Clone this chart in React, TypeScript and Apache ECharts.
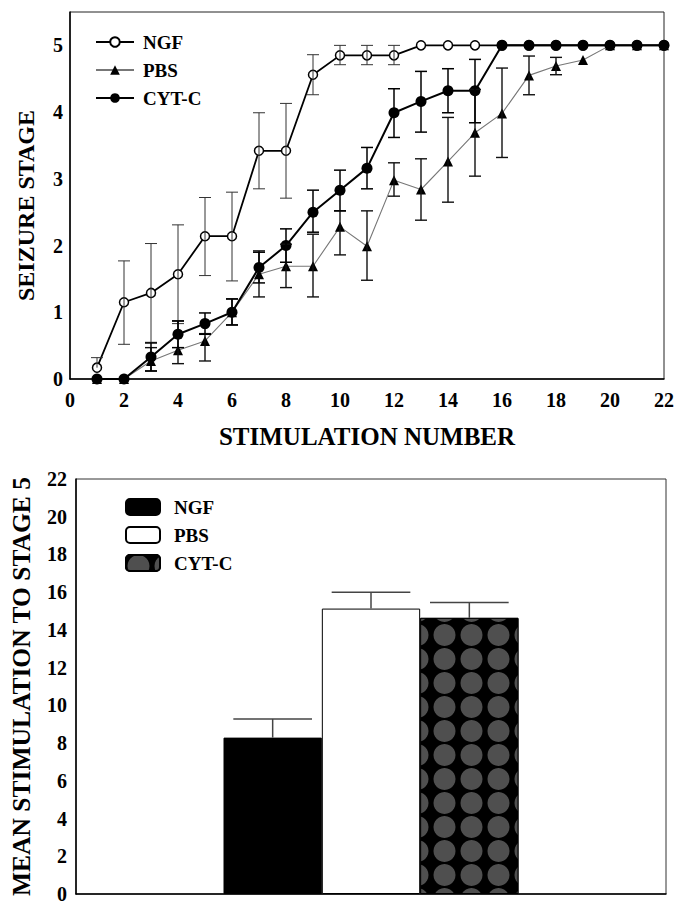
import React, { useEffect, useRef } from "react";
import * as echarts from "echarts";

// ---------- data: top chart ----------
const stimulation = [1, 2, 3, 4, 5, 6, 7, 8, 9, 10, 11, 12, 13, 14, 15, 16, 17, 18, 19, 20, 21, 22];
const ngfMean = [0.17, 1.15, 1.29, 1.57, 2.14, 2.14, 3.42, 3.42, 4.56, 4.85, 4.85, 4.85, 5, 5, 5, 5, 5, 5, 5, 5, 5, 5];
const ngfUpper = [0.32, 1.77, 2.03, 2.31, 2.72, 2.8, 3.99, 4.13, 4.86, 5.0, 5.0, 5.0, null, null, null, null, null, null, null, null, null, null];
const ngfLower = [null, 0.52, 0.55, 0.83, 1.55, 1.47, 2.85, 2.71, 4.26, 4.71, 4.71, 4.71, null, null, null, null, null, null, null, null, null, null];

const pbsMean = [0, 0, 0.27, 0.43, 0.57, 1.0, 1.57, 1.69, 1.69, 2.28, 1.99, 2.98, 2.84, 3.26, 3.69, 3.98, 4.55, 4.69, 4.78, 5, 5, 5];
const pbsUpper = [null, null, 0.47, 0.87, 0.68, 1.2, 1.92, 2.02, 2.17, 2.52, 2.52, 3.24, 3.3, 3.92, 4.34, 4.66, 4.84, 4.82, null, null, null, null];
const pbsLower = [null, null, 0.12, 0.23, 0.27, 0.81, 1.23, 1.37, 1.23, 1.86, 1.48, 2.74, 2.38, 2.65, 3.04, 3.32, 4.26, 4.56, null, null, null, null];

const cytMean = [0, 0, 0.33, 0.67, 0.83, 1.0, 1.67, 2.0, 2.5, 2.83, 3.16, 3.99, 4.16, 4.32, 4.32, 5, 5, 5, 5, 5, 5, 5];
const cytUpper = [null, null, 0.54, 0.87, 0.99, 1.2, 1.9, 2.25, 2.83, 3.13, 3.47, 4.35, 4.61, 4.65, 4.79, null, null, null, null, null, null, null];
const cytLower = [null, null, 0.12, 0.47, 0.67, 0.81, 1.44, 1.75, 2.2, 2.52, 2.85, 3.62, 3.7, 3.99, 3.84, null, null, null, null, null, null, null];

// ---------- data: bottom chart ----------
const barGroups = ["NGF", "PBS", "CYT-C"];
const barMeans = [8.29, 15.13, 14.64];
const barUpper = [9.28, 16.0, 15.45];
const barSlots = ["s0", "s1", ...barGroups, "s5", "s6"];

const FONT = "'Liberation Serif', 'Times New Roman', Times, serif";

function errData(mean: number[], upper: (number | null)[], lower: (number | null)[]) {
  const out: any[] = [];
  stimulation.forEach((x, i) => {
    if (upper[i] == null && lower[i] == null) return;
    out.push([x, lower[i] ?? mean[i], upper[i] ?? mean[i], lower[i] == null ? 0 : 1, upper[i] == null ? 0 : 1]);
  });
  return out;
}

function errSeries(name: string, data: any[], stroke: string, lw: number) {
  return {
    type: "custom",
    name,
    xAxisIndex: 0,
    yAxisIndex: 0,
    z: 5,
    encode: { x: 0, y: [1, 2] },
    data,
    renderItem: (params: any, api: any) => {
      const x = api.value(0);
      const lo = api.value(1);
      const hi = api.value(2);
      const hasLo = api.value(3);
      const hasHi = api.value(4);
      const pT = api.coord([x, hi]);
      const pB = api.coord([x, lo]);
      const w = 6;
      const style = { stroke, lineWidth: lw, fill: "none" };
      const children: any[] = [
        { type: "line", shape: { x1: pT[0], y1: pT[1], x2: pB[0], y2: pB[1] }, style },
      ];
      if (hasHi) children.push({ type: "line", shape: { x1: pT[0] - w, y1: pT[1], x2: pT[0] + w, y2: pT[1] }, style });
      if (hasLo) children.push({ type: "line", shape: { x1: pB[0] - w, y1: pB[1], x2: pB[0] + w, y2: pB[1] }, style });
      return { type: "group", children };
    },
  };
}

export default function App() {
  const ref = useRef<HTMLDivElement>(null);
  useEffect(() => {
    if (!ref.current) return;
    const chart = echarts.init(ref.current, null, { renderer: "svg" });
    const axisLabel = { color: "#000", fontWeight: "bold", fontFamily: FONT, fontSize: 20 };
    const nameStyle = { color: "#000", fontWeight: "bold", fontFamily: FONT };
    const option: any = {
      animation: false,
      backgroundColor: "#fff",
      grid: [
        { left: 70, top: 12, width: 595, height: 367, show: true, borderColor: "#222", borderWidth: 1, backgroundColor: "transparent" },
        { left: 76, top: 479, width: 590, height: 420, show: true, borderColor: "#333", borderWidth: 1, backgroundColor: "transparent" },
      ],
      legend: [
        {
          orient: "vertical",
          left: 90,
          top: 27,
          itemWidth: 38,
          itemHeight: 12,
          itemGap: 8,
          selectedMode: false,
          data: ["NGF", "PBS", "CYT-C"],
          textStyle: { color: "#000", fontWeight: "bold", fontFamily: FONT, fontSize: 19, lineHeight: 20, padding: [0, 0, 0, 4] },
        },
        {
          orient: "vertical",
          left: 120,
          top: 492,
          itemWidth: 34,
          itemHeight: 16,
          itemGap: 8,
          selectedMode: false,
          data: barGroups.map((g) => "bar-" + g),
          formatter: (n: string) => n.replace("bar-", ""),
          textStyle: { color: "#000", fontWeight: "bold", fontFamily: FONT, fontSize: 19, lineHeight: 20, padding: [0, 0, 0, 9] },
        },
      ],
      xAxis: [
        {
          type: "value",
          gridIndex: 0,
          min: 0,
          max: 22,
          interval: 2,
          name: "STIMULATION NUMBER",
          nameLocation: "middle",
          nameGap: 45,
          nameTextStyle: { ...nameStyle, fontSize: 25 },
          axisLine: { show: true, lineStyle: { color: "#000", width: 1.5 } },
          axisTick: { show: false },
          splitLine: { show: false },
          axisLabel: { ...axisLabel, margin: 11 },
        },
        {
          type: "category",
          gridIndex: 1,
          data: barSlots,
          boundaryGap: false,
          axisLine: { show: true, lineStyle: { color: "#000", width: 1.5 } },
          axisTick: { show: false },
          axisLabel: { show: false },
          splitLine: { show: false },
        },
      ],
      yAxis: [
        {
          type: "value",
          gridIndex: 0,
          min: 0,
          max: 5.5,
          interval: 1,
          name: "SEIZURE STAGE",
          nameLocation: "middle",
          nameGap: 32,
          nameTextStyle: { ...nameStyle, fontSize: 24, padding: [0, 20, 0, 0] },
          axisLine: { show: true, lineStyle: { color: "#000", width: 1.5 } },
          axisTick: { show: false },
          splitLine: { show: false },
          axisLabel: { ...axisLabel, margin: 7, formatter: (v: number) => (Number.isInteger(v) ? String(v) : "") },
        },
        {
          type: "value",
          gridIndex: 1,
          min: 0,
          max: 22,
          interval: 2,
          name: "MEAN STIMULATION TO STAGE 5",
          nameLocation: "middle",
          nameGap: 42,
          nameTextStyle: { ...nameStyle, fontSize: 25.5 },
          axisLine: { show: true, lineStyle: { color: "#000", width: 1.5 } },
          axisTick: { show: false },
          splitLine: { show: false },
          axisLabel: { ...axisLabel, margin: 9 },
        },
      ],
      series: [
        {
          type: "line",
          name: "NGF",
          xAxisIndex: 0,
          yAxisIndex: 0,
          data: stimulation.map((x, i) => [x, ngfMean[i]]),
          symbol: "circle",
          symbolSize: 9,
          itemStyle: { color: "#fff", borderColor: "#000", borderWidth: 1.5 },
          lineStyle: { color: "#000", width: 1.8 },
          z: 2,
        },
        {
          type: "line",
          name: "PBS",
          xAxisIndex: 0,
          yAxisIndex: 0,
          data: stimulation.map((x, i) => [x, pbsMean[i]]),
          symbol: "triangle",
          symbolSize: 10,
          itemStyle: { color: "#000" },
          lineStyle: { color: "#777", width: 1.1 },
          z: 3,
        },
        {
          type: "line",
          name: "CYT-C",
          xAxisIndex: 0,
          yAxisIndex: 0,
          data: stimulation.map((x, i) => [x, cytMean[i]]),
          symbol: "circle",
          symbolSize: 11,
          itemStyle: { color: "#000" },
          lineStyle: { color: "#000", width: 2 },
          z: 4,
        },
        errSeries("err-NGF", errData(ngfMean, ngfUpper, ngfLower), "#333", 1),
        errSeries("err-PBS", errData(pbsMean, pbsUpper, pbsLower), "#111", 1.4),
        errSeries("err-CYT-C", errData(cytMean, cytUpper, cytLower), "#000", 1.5),
        // bottom chart bars
        ...barGroups.map((g, i) => ({
          type: "bar",
          name: "bar-" + g,
          xAxisIndex: 1,
          yAxisIndex: 1,
          barWidth: "100%",
          barGap: "-100%",
          data: [[2 + i, barMeans[i]]],
          itemStyle:
            i === 0
              ? { color: "#000", borderColor: "#000", borderWidth: 1 }
              : i === 1
              ? { color: "#fff", borderColor: "#000", borderWidth: 1 }
              : {
                  color: "#000",
                  borderColor: "#000",
                  borderWidth: 1,
                  decal: {
                    symbol: "circle",
                    symbolSize: 1,
                    color: "#4f4f4f",
                    dashArrayX: [[25, 2]],
                    dashArrayY: [22, 2],
                    rotation: 0,
                  },
                },
        })),
        {
          type: "custom",
          name: "err-bars",
          xAxisIndex: 1,
          yAxisIndex: 1,
          z: 5,
          encode: { x: 0, y: [1, 2] },
          data: barGroups.map((g, i) => [2 + i, barMeans[i], barUpper[i]]),
          renderItem: (params: any, api: any) => {
            const x = api.value(0);
            const pB = api.coord([x, api.value(1)]);
            const pT = api.coord([x, api.value(2)]);
            const half = api.size([1, 0])[0] * 0.4;
            const style = { stroke: "#444", lineWidth: 1.5, fill: "none" };
            return {
              type: "group",
              children: [
                { type: "line", shape: { x1: pT[0], y1: pT[1], x2: pB[0], y2: pB[1] }, style },
                { type: "line", shape: { x1: pT[0] - half, y1: pT[1], x2: pT[0] + half, y2: pT[1] }, style },
              ],
            };
          },
        },
      ],
    };
    chart.setOption(option);
    return () => chart.dispose();
  }, []);
  return <div ref={ref} style={{ position: "fixed", left: 0, top: 0, width: 677, height: 904, background: "#fff" }} />;
}
